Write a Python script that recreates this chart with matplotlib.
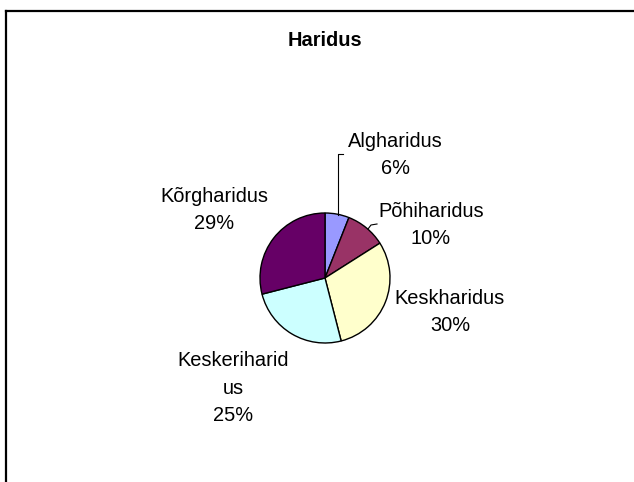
import matplotlib.pyplot as plt
from matplotlib.lines import Line2D

plt.rcParams['font.family'] = ['Liberation Sans', 'DejaVu Sans']

title = 'Haridus'
names = ['Algharidus', 'Põhiharidus', 'Keskharidus', 'Keskeriharid\nus', 'Kõrgharidus']
shares = [6, 10, 30, 25, 29]
colors = ['#9999FF', '#993366', '#FFFFCC', '#CCFFFF', '#660066']

W, H = 634, 482
fig = plt.figure(figsize=(W / 100, H / 100), dpi=100)
ax = fig.add_axes([0, 0, 1, 1])

# pie centre / radius in pixels (y counted from the bottom)
cx, cy, r = 325, H - 278, 65
ax.pie(shares, colors=colors, startangle=90, counterclock=False,
       center=(cx, cy), radius=r, frame=True,
       wedgeprops=dict(edgecolor='black', linewidth=1.0))
ax.set_xlim(0, W)
ax.set_ylim(0, H)
ax.set_aspect('equal')
ax.axis('off')

# label spots (pixel offsets from the pie centre), Excel style
label_pos = [(70, 123), (106, 53), (125, -34), (-92, -110), (-111, 68)]
for name, s, (dx, dy) in zip(names, shares, label_pos):
    ax.text(cx + dx, cy + dy, f'{name}\n{s}%', ha='center', va='center',
            fontsize=14.4, linespacing=1.55)

# leader lines
ax.plot([338, 338, 343], [H - 215, H - 154, H - 154], color='black', lw=0.8)
ax.plot([368, 371, 377], [H - 229, H - 225, H - 224], color='black', lw=0.8)

ax.text(325, H - 40, title, ha='center', va='center',
        fontsize=14.4, fontweight='bold')

# chart area border (only top and left visible in the crop)
fig.add_artist(Line2D([6 / W, 1], [1 - 11 / H, 1 - 11 / H], color='black', lw=1.6))
fig.add_artist(Line2D([6 / W, 6 / W], [0, 1 - 11 / H], color='black', lw=1.6))

fig.savefig('out.png', dpi=100)
